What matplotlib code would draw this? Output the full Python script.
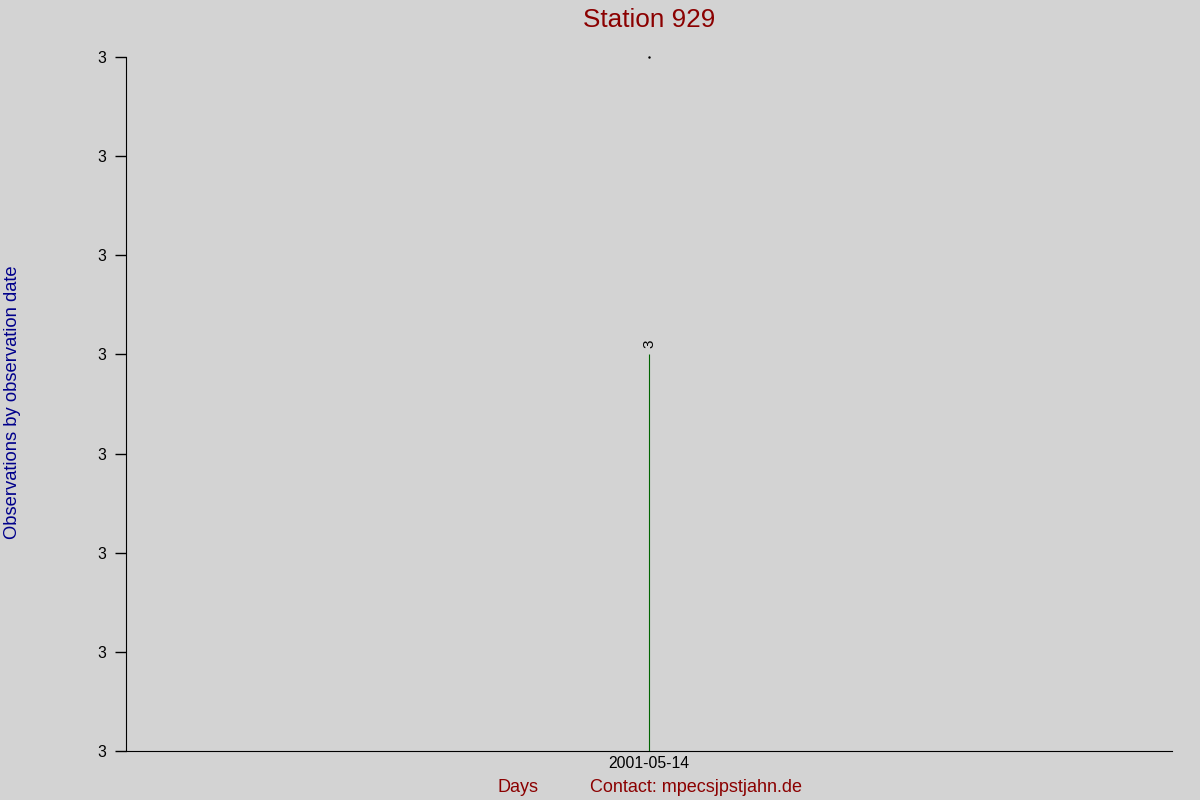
import matplotlib
matplotlib.use("Agg")
import matplotlib.pyplot as plt

plt.rcParams['font.family'] = ['Liberation Sans', 'DejaVu Sans']

dates = ["2001-05-14"]
counts = [3]
ytick_values = [0, 0.75, 1.5, 2.25, 3.0, 3.75, 4.5, 5.25]
ytick_labels = ["3"] * 8
title = "Station 929"

bg = "#d3d3d3"
fig = plt.figure(figsize=(12, 8), dpi=100, facecolor=bg)
ax = fig.add_axes([0.105, 0.06125, 0.8717, 0.8675], facecolor=bg)

xs = list(range(len(dates)))
ax.vlines(xs, 0, counts, color="#006400", linewidth=0.8)
for x, c in zip(xs, counts):
    ax.text(x, c + 0.05, str(c), rotation=90, ha="center", va="bottom", fontsize=11)
# small marker at top
ax.plot([xs[0]], [ytick_values[-1]], marker="s", markersize=0.7, color="black", linestyle="none", clip_on=False)

ax.set_xlim(-1, 1)
ax.set_ylim(ytick_values[0], ytick_values[-1])
ax.set_xticks(xs)
ax.set_xticklabels(dates, fontsize=11.3)
ax.tick_params(axis="x", length=0, pad=3.5)
ax.set_yticks(ytick_values)
ax.set_yticklabels(ytick_labels, fontsize=11.3)
ax.tick_params(axis="y", length=8, width=1, pad=6)

for s in ["top", "right"]:
    ax.spines[s].set_visible(False)

fig.text(0.5408, 0.975, title, ha="center", va="center", fontsize=18.8, color="#8b0000")
fig.text(0.0105, 0.4975, "Observations by observation date", rotation=90, ha="center", va="center",
         fontsize=13.2, color="#00008b")
fig.text(0.4315, 0.0155, "Days", ha="center", va="center", fontsize=13, color="#8b0000")
fig.text(0.4917, 0.0155, "Contact: mpecsjpstjahn.de", ha="left", va="center", fontsize=13, color="#8b0000")

fig.savefig("out.png", dpi=100, facecolor=bg)
